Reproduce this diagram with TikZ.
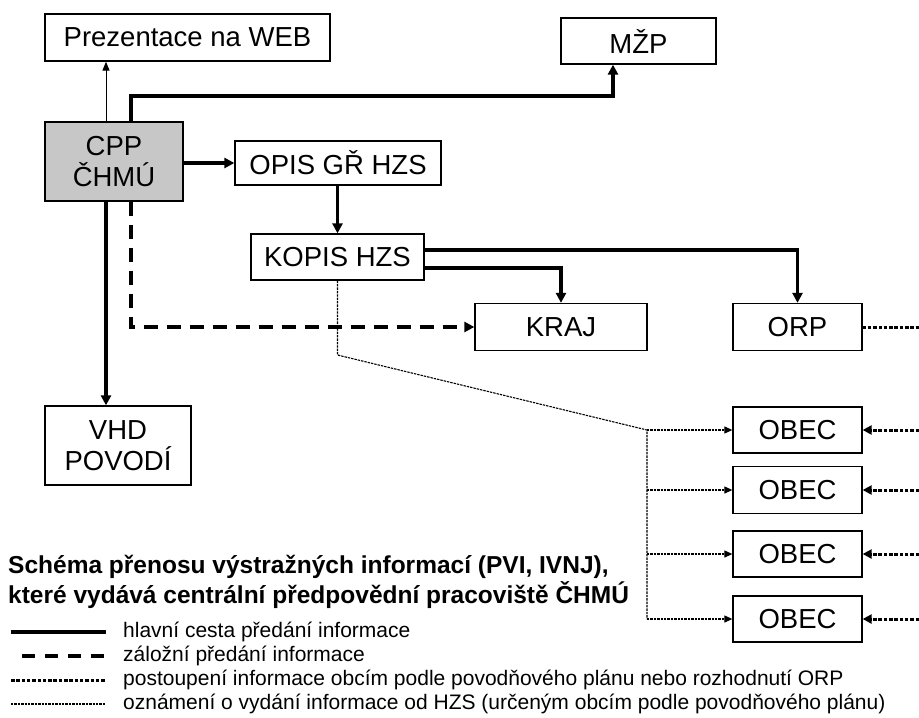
\documentclass[tikz,border=0pt]{standalone}
\usepackage{fontspec}
\setmainfont{Liberation Sans}
\usetikzlibrary{arrows.meta,calc}
\begin{document}
\begin{tikzpicture}[x=1pt,y=-1pt,
  box/.style={draw,line width=1.3pt,rectangle,inner sep=0pt,align=center,
    font=\fontsize{27.5}{31}\selectfont},
  mainln/.style={line width=3.2pt},
  mainarr/.style={mainln,-{Triangle[length=10pt,width=10pt]}},
  thinarr/.style={line width=1pt,-{Triangle[length=9pt,width=7pt]}},
  backup/.style={line width=3.2pt,dash pattern=on 14pt off 9pt,-{Triangle[length=10pt,width=10pt]}},
  orpdot/.style={line width=3pt,dash pattern=on 3.5pt off 1.8pt},
  hzsdot/.style={line width=1.1pt,dash pattern=on 2.4pt off 1pt},
  hzsarr/.style={hzsdot,-{Triangle[length=8pt,width=7pt]}},
  orparr/.style={orpdot,-{Triangle[length=9pt,width=9pt]}},
  legtxt/.style={anchor=west,inner sep=0pt,font=\fontsize{21}{23}\selectfont},
  ttl/.style={anchor=west,inner sep=0pt,font=\bfseries\fontsize{24.5}{28}\selectfont}
]
\useasboundingbox (0,0) rectangle (919,718);
\fill[white] (0,0) rectangle (919,718);

% nodes
\node[box,minimum width=285pt,minimum height=47pt] (web) at (187.5,37.5) {Prezentace na WEB};
\node[box,minimum width=155pt,minimum height=46pt] (mzp) at (638.5,41) {MŽP};
\node[box,fill=black!22,minimum width=138pt,minimum height=79pt,font=\fontsize{27.5}{31}\selectfont] (cpp) at (114,161.5) {CPP\\ČHMÚ};
\node[box,minimum width=206pt,minimum height=44pt] (opis) at (338,163) {OPIS GŘ HZS};
\node[box,minimum width=173pt,minimum height=46pt] (kopis) at (337.5,257) {KOPIS HZS};
\node[box,minimum width=172pt,minimum height=47pt] (kraj) at (561,327) {KRAJ};
\node[box,minimum width=129pt,minimum height=47pt] (orp) at (797.5,327) {ORP};
\node[box,minimum width=146pt,minimum height=79pt,font=\fontsize{27.5}{31}\selectfont] (vhd) at (118,445.5) {VHD\\POVODÍ};
\node[box,minimum width=129pt,minimum height=46pt] (obec1) at (797.5,430) {OBEC};
\node[box,minimum width=129pt,minimum height=47pt] (obec2) at (797.5,490) {OBEC};
\node[box,minimum width=129pt,minimum height=46pt] (obec3) at (797.5,554) {OBEC};
\node[box,minimum width=129pt,minimum height=46pt] (obec4) at (797.5,619) {OBEC};

% helper coordinates
\coordinate (xa) at (106,0);
\coordinate (xb) at (131,0);
\coordinate (xm) at (613,96);
\coordinate (d1) at (338,355);
\coordinate (br) at (647,430);
\coordinate (edge) at (919,0);

% connectors
\draw[thinarr] (cpp.north -| xa) -- (web.south -| xa);
\draw[mainarr] (cpp.north -| xb) |- (xm) -- (mzp.south -| xm);
\draw[mainarr] (cpp.east |- opis.west) -- (opis.west);
\draw[mainarr] (opis.south -| kopis.north) -- (kopis.north);
\draw[mainarr] ([yshift=7pt]kopis.east) -| (orp.north);
\draw[mainarr] ([yshift=-11pt]kopis.east) -| (kraj.north);
\draw[backup] (cpp.south -| xb) |- (kraj.west);
\draw[mainarr] (cpp.south -| xa) -- (vhd.north -| xa);

\draw[hzsdot] (kopis.south) -- (kopis.south |- d1) -- (br) -- (br |- obec4.west);
\draw[hzsarr] (br) -- (obec1.west);
\draw[hzsarr] (br |- obec2.west) -- (obec2.west);
\draw[hzsarr] (br |- obec3.west) -- (obec3.west);
\draw[hzsarr] (br |- obec4.west) -- (obec4.west);

\draw[orpdot] (orp.east) -- (orp.east -| edge);
\draw[orparr] (obec1.east -| edge) -- (obec1.east);
\draw[orparr] (obec2.east -| edge) -- (obec2.east);
\draw[orparr] (obec3.east -| edge) -- (obec3.east);
\draw[orparr] (obec4.east -| edge) -- (obec4.east);

% legend
\node[ttl] (t1) at (8,567) {Schéma přenosu výstražných informací (PVI, IVNJ),};
\node[ttl] (t2) at (8,595) {které vydává centrální předpovědní pracoviště ČHMÚ};
\coordinate (l1a) at (11,632); \coordinate (l1b) at (106,632);
\coordinate (l2a) at (22,656); \coordinate (l2b) at (106,656);
\coordinate (l3a) at (11,680); \coordinate (l3b) at (106,680);
\coordinate (l4a) at (11,704); \coordinate (l4b) at (106,704);
\draw[mainln] (l1a) -- (l1b);
\draw[line width=3.2pt,dash pattern=on 13pt off 10pt] (l2a) -- (l2b);
\draw[orpdot] (l3a) -- (l3b);
\draw[hzsdot] (l4a) -- (l4b);
\node[legtxt] (g1) at (123,632) {hlavní cesta předání informace};
\node[legtxt] (g2) at (123,656) {záložní předání informace};
\node[legtxt] (g3) at (123,680) {postoupení informace obcím podle povodňového plánu nebo rozhodnutí ORP};
\node[legtxt] (g4) at (123,704) {oznámení o vydání informace od HZS (určeným obcím podle povodňového plánu)};
\end{tikzpicture}
\end{document}
